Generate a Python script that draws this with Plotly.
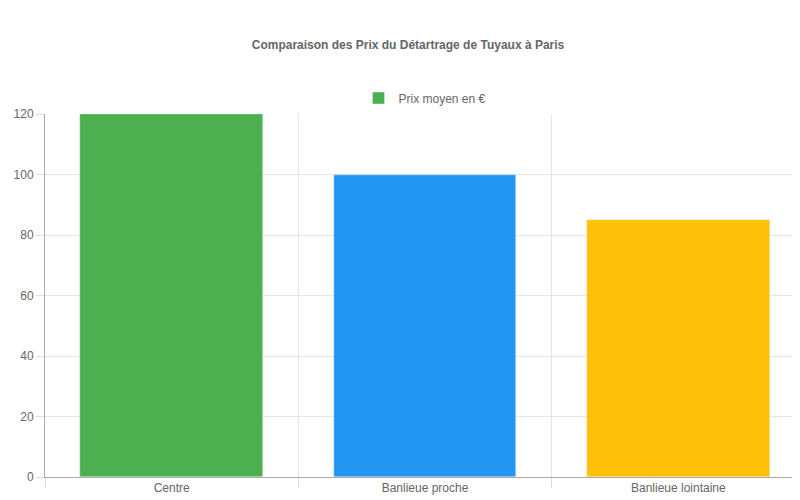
import plotly.graph_objects as go

categories = ["Centre", "Banlieue proche", "Banlieue lointaine"]
prix = [120, 100, 85]
couleurs = ["#4CAF50", "#2196F3", "#FFC107"]

fig = go.Figure()
fig.add_trace(go.Bar(
    x=list(range(len(categories))), y=prix,
    marker_color=couleurs, width=0.72,
    name="Prix moyen en €", showlegend=True,
))

fig.update_layout(
    width=800, height=500,
    margin=dict(l=37, r=3, t=106, b=31, autoexpand=False),
    paper_bgcolor="white", plot_bgcolor="white",
    font=dict(family="Liberation Sans, Arial", size=12, color="#666"),
    title=dict(text="<b>Comparaison des Prix du Détartrage de Tuyaux à Paris</b>",
               x=0.5, y=0.926, xanchor="center", yanchor="middle",
               font=dict(size=12, color="#666")),
    legend=dict(orientation="h", x=0.5, xanchor="center", y=1.044, yanchor="middle",
                font=dict(size=12, color="#666")),
    bargap=0,
)
fig.update_xaxes(
    range=[-0.5, 2.5], tickvals=[0, 1, 2], ticktext=categories,
    showgrid=False, showline=True, linecolor="#aaa", ticks="", automargin=False,
    minor=dict(tickvals=[-0.5, 0.5, 1.5, 2.5], showgrid=True, gridcolor="#e5e5e5",
               ticks="outside", ticklen=10, tickcolor="#ddd"),
    zeroline=False,
)
fig.update_yaxes(
    range=[0, 120], dtick=20, showgrid=True, gridcolor="#e5e5e5", automargin=False,
    showline=True, linecolor="#aaa", ticks="outside", ticklen=8, tickcolor="#ddd",
    zeroline=False,
)

fig.write_html("out.html")
